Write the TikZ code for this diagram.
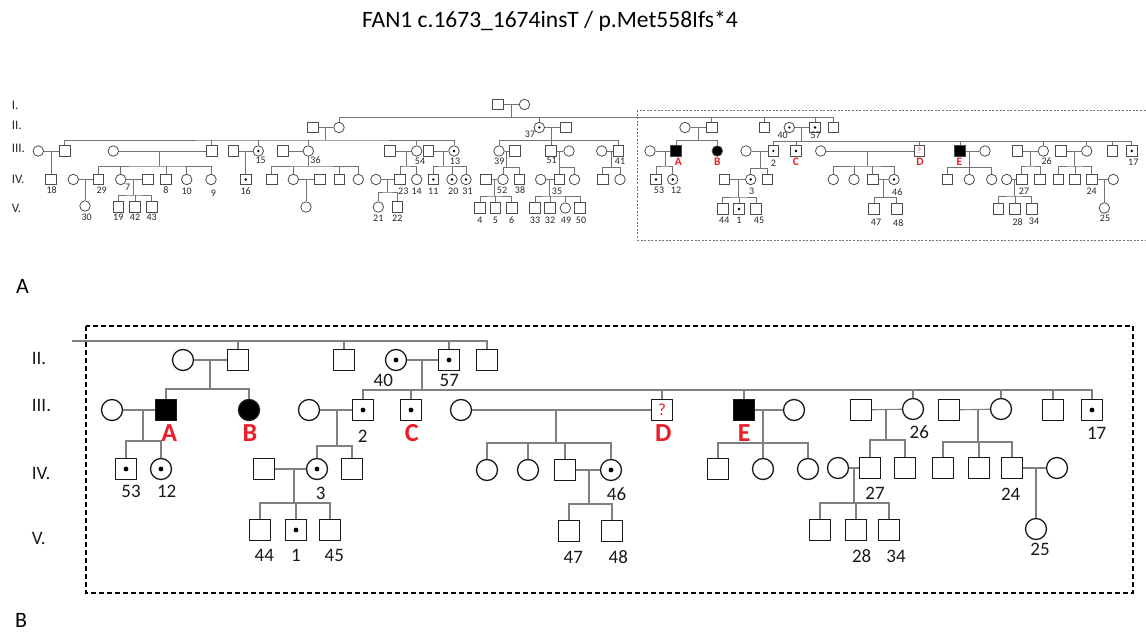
\documentclass[tikz,border=0pt]{standalone}
\usepackage{fontspec}
\setmainfont{Carlito}
\definecolor{tsym}{gray}{0.30}
\definecolor{tline}{gray}{0.45}
\definecolor{bsym}{gray}{0.10}
\definecolor{bline}{gray}{0.50}
\definecolor{lred}{RGB}{235,28,36}
\tikzset{
 tsq/.style={rectangle,draw=tsym,line width=0.8pt,minimum size=10.5pt,inner sep=0pt},
 tci/.style={circle,draw=tsym,line width=0.8pt,minimum size=10.5pt,inner sep=0pt},
 bsq/.style={rectangle,draw=bsym,line width=1.3pt,minimum size=21pt,inner sep=0pt},
 bci/.style={circle,draw=bsym,line width=1.3pt,minimum size=21pt,inner sep=0pt},
 aff/.style={fill=black},
 tcar/.style={path picture={\fill[black] (path picture bounding box.center) circle (1.3pt);}},
 bcar/.style={path picture={\fill[black] (path picture bounding box.center) circle (2.4pt);}},
 tln/.style={draw=tline,line width=0.7pt},
 bln/.style={draw=bline,line width=1.1pt},
 tlab/.style={inner sep=0pt,text=black!85,font=\fontsize{10}{12}\selectfont},
 blab/.style={inner sep=0pt,text=black!90,font=\fontsize{19}{22}\selectfont},
 tred/.style={inner sep=0pt,text=lred,font=\fontsize{11.5}{13}\selectfont\bfseries},
 bred/.style={inner sep=0pt,text=lred,font=\fontsize{26}{30}\selectfont\bfseries},
 tgen/.style={inner sep=0pt,anchor=west,text=black!85,font=\fontsize{13}{15}\selectfont},
 bgen/.style={inner sep=0pt,anchor=west,text=black!90,font=\fontsize{19}{22}\selectfont},
}
% family: style, name, x of drop, y of mating line, y of sibship bar, leftmost child, rightmost child
\newcommand{\pfam}[7]{%
 \coordinate (#2-m) at (#3,#4);
 \coordinate (#2-j) at (#3,#5);
 \draw[#1] (#2-m) -- (#2-j);
 \draw[#1] (#6.north) |- (#2-j) -| (#7.north);
}
% middle children of a family: style, name, list
\newcommand{\pmid}[3]{\foreach \c in {#3}{\draw[#1] (\c.north |- #2-j) -- (\c.north);}}
% only child straight below
\newcommand{\pone}[5]{%
 \coordinate (#2-m) at (#3,#4);
 \draw[#1] (#2-m) -- (#5.north);
}
\newcommand{\pmate}[3]{\draw[#1] (#2) -- (#3);}
\newcommand{\tnum}[4]{\node[tlab] (#1) at (#2,#3) {#4};}
\newcommand{\bnum}[4]{\node[blab] (#1) at (#2,#3) {#4};}
\begin{document}
\begin{tikzpicture}[x=1pt,y=-1pt]
\useasboundingbox (0,0) rectangle (1146,634);
% title and panel labels
\node[inner sep=0pt,anchor=base,font=\fontsize{23.5}{28}\selectfont] (title) at (550,27.3) {FAN1 c.1673\_1674insT / p.Met558Ifs*4};
\node[inner sep=0pt,anchor=base west,font=\fontsize{22}{26}\selectfont] (panA) at (16,293) {A};
\node[inner sep=0pt,anchor=base west,font=\fontsize{22}{26}\selectfont] (panB) at (15,627.3) {B};

% ================= PANEL A =================
\node[tgen] (tg1) at (11.7,105) {I.};
\node[tgen] (tg2) at (11.7,125) {II.};
\node[tgen] (tg3) at (11.7,148.3) {III.};
\node[tgen] (tg4) at (11.7,179.3) {IV.};
\node[tgen] (tg5) at (11.7,208.3) {V.};
\draw[tline,line width=0.8pt,dash pattern=on 2pt off 1.6pt] (637.3,110) rectangle (1152,240);

% Gen I
\node[tsq] (tI1) at (498,104.5) {};
\node[tci] (tI2) at (524.5,104.5) {};
% Gen II
\node[tsq] (tII1) at (313,127.5) {};
\node[tci] (tII2) at (339,127.5) {};
\node[tci,tcar] (tII3) at (539.3,127.5) {};
\node[tsq] (tII4) at (565.7,127.5) {};
\node[tci] (tII5) at (685,127.5) {};
\node[tsq] (tII6) at (711.7,127.5) {};
\node[tsq] (tII7) at (764.3,127.5) {};
\node[tci,tcar] (tII8) at (789.3,127.5) {};
\node[tsq,tcar] (tII9) at (815,127.5) {};
\node[tsq] (tII10) at (833.3,127.5) {};
% Gen III
\node[tci] (tIII0) at (38.3,151) {};
\node[tsq] (tIII1) at (64.7,151) {};
\node[tci] (tIII2) at (113.3,151) {};
\node[tsq] (tIII3) at (211.7,151) {};
\node[tsq] (tIII4) at (233.3,151) {};
\node[tci,tcar] (tIII5) at (258.3,151) {};
\node[tsq] (tIII6) at (283,151) {};
\node[tci] (tIII7) at (308.3,151) {};
\node[tsq] (tIII8) at (390,151) {};
\node[tci] (tIII9) at (416.7,151) {};
\node[tsq] (tIII10) at (428.3,151) {};
\node[tci,tcar] (tIII11) at (454,151) {};
\node[tci] (tIII12) at (499,151) {};
\node[tsq] (tIII13) at (515,151) {};
\node[tsq] (tIII14) at (551,151) {};
\node[tci] (tIII15) at (569,151) {};
\node[tci] (tIII16) at (601.7,151) {};
\node[tsq] (tIII17) at (618.3,151) {};
\node[tci] (tIII18) at (650,151) {};
\node[tsq,aff] (tIII19) at (676,151) {};
\node[tci,aff] (tIII20) at (717.3,151) {};
\node[tci] (tIII21) at (746,151) {};
\node[tsq,tcar] (tIII22) at (773.3,151) {};
\node[tsq,tcar] (tIII23) at (796,151) {};
\node[tci] (tIII24) at (820.7,151) {};
\node[tsq,text=lred,font=\fontsize{8}{9}\selectfont] (tIII25) at (919.3,151) {?};
\node[tsq,aff] (tIII26) at (960,151) {};
\node[tci] (tIII27) at (985,151) {};
\node[tsq] (tIII28) at (1017.3,151) {};
\node[tci] (tIII29) at (1043.3,151) {};
\node[tsq] (tIII30) at (1061,151) {};
\node[tci] (tIII31) at (1086.7,151) {};
\node[tsq] (tIII32) at (1112.3,151) {};
\node[tsq,tcar] (tIII33) at (1131.7,151) {};
% Gen IV
\node[tsq] (tIV1) at (51,179.5) {};
\node[tci] (tIV2) at (73.3,179.5) {};
\node[tsq] (tIV3) at (98.3,179.5) {};
\node[tci] (tIV4) at (120.7,179.5) {};
\node[tsq] (tIV5) at (147.7,179.5) {};
\node[tsq] (tIV6) at (166,179.5) {};
\node[tci] (tIV7) at (186.7,179.5) {};
\node[tci] (tIV8) at (211,179.5) {};
\node[tsq,tcar] (tIV9) at (245.7,179.5) {};
\node[tsq] (tIV10) at (271.7,179.5) {};
\node[tci] (tIV11) at (293.3,179.5) {};
\node[tsq] (tIV12) at (320,179.5) {};
\node[tsq] (tIV13) at (339.3,179.5) {};
\node[tci] (tIV14) at (358.3,179.5) {};
\node[tci] (tIV15) at (376,179.5) {};
\node[tsq] (tIV16) at (400,179.5) {};
\node[tci] (tIV17) at (416.7,179.5) {};
\node[tsq,tcar] (tIV18) at (433.3,179.5) {};
\node[tci,tcar] (tIV19) at (452,179.5) {};
\node[tci,tcar] (tIV20) at (466,179.5) {};
\node[tsq] (tIV21) at (486,179.5) {};
\node[tci] (tIV22) at (503,179.5) {};
\node[tsq] (tIV23) at (519.3,179.5) {};
\node[tci] (tIV24) at (540.7,179.5) {};
\node[tsq] (tIV25) at (559.5,179.5) {};
\node[tci] (tIV26) at (574.5,179.5) {};
\node[tsq] (tIV27) at (602.7,179.5) {};
\node[tci] (tIV28) at (620,179.5) {};
\node[tsq,tcar] (tIV29) at (656,179.5) {};
\node[tci,tcar] (tIV30) at (672.7,179.5) {};
\node[tsq] (tIV31) at (724.3,179.5) {};
\node[tci,tcar] (tIV32) at (750.7,179.5) {};
\node[tsq] (tIV33) at (767.3,179.5) {};
\node[tci] (tIV34) at (833.3,179.5) {};
\node[tci] (tIV35) at (854,179.5) {};
\node[tsq] (tIV36) at (872.7,179.5) {};
\node[tci,tcar] (tIV37) at (894,179.5) {};
\node[tsq] (tIV38) at (947.3,179.5) {};
\node[tci] (tIV39) at (969.3,179.5) {};
\node[tci] (tIV40) at (991.7,179.5) {};
\node[tci] (tIV41) at (1006.7,179.5) {};
\node[tsq] (tIV42) at (1021.7,179.5) {};
\node[tsq] (tIV43) at (1040,179.5) {};
\node[tsq] (tIV44) at (1058.3,179.5) {};
\node[tsq] (tIV45) at (1075,179.5) {};
\node[tsq] (tIV46) at (1091.7,179.5) {};
\node[tci] (tIV47) at (1113.3,179.5) {};
% Gen V
\node[tci] (tV1) at (85,206) {};
\node[tsq] (tV2) at (118.3,207) {};
\node[tsq] (tV3) at (135,207) {};
\node[tsq] (tV4) at (151.7,207) {};
\node[tci] (tV5) at (306,207) {};
\node[tci] (tV6) at (378.3,207) {};
\node[tsq] (tV7) at (397.3,207) {};
\node[tsq] (tV8) at (480,208) {};
\node[tsq] (tV9) at (495.3,208) {};
\node[tsq] (tV10) at (511.7,208) {};
\node[tsq] (tV11) at (535,208) {};
\node[tsq] (tV12) at (550,208) {};
\node[tci] (tV13) at (565.3,208) {};
\node[tsq] (tV14) at (580,208) {};
\node[tsq] (tV15) at (722.7,209) {};
\node[tsq,tcar] (tV16) at (739,209) {};
\node[tsq] (tV17) at (756,209) {};
\node[tsq] (tV18) at (874,209) {};
\node[tsq] (tV19) at (896.7,209) {};
\node[tsq] (tV20) at (998.3,209) {};
\node[tsq] (tV21) at (1015,209) {};
\node[tsq] (tV22) at (1031.7,209) {};
\node[tci] (tV23) at (1104.3,208) {};

% connectors panel A
\pmate{tln}{tI1}{tI2}
\pfam{tln}{tfI}{511}{104.5}{117.7}{tII2}{tII10}
\pmid{tln}{tfI}{tII3,tII6,tII7,tII9}
\pmate{tln}{tII1}{tII2}
\pmate{tln}{tII3}{tII4}
\pmate{tln}{tII5}{tII6}
\pmate{tln}{tII8}{tII9}
\pfam{tln}{tfA}{325}{127.5}{140}{tIII1}{tIII11}
\pmid{tln}{tfA}{tIII3,tIII5,tIII7,tIII9}
\pfam{tln}{tfB}{551.7}{127.5}{140.7}{tIII12}{tIII17}
\pmid{tln}{tfB}{tIII14}
\pfam{tln}{tfC}{698.3}{127.5}{140.7}{tIII19}{tIII20}
\pfam{tln}{tfD}{801.7}{127.5}{141.7}{tIII22}{tIII33}
\pmid{tln}{tfD}{tIII23,tIII25,tIII26,tIII29,tIII31,tIII32}
\pmate{tln}{tIII0}{tIII1}
\pmate{tln}{tIII2}{tIII3}
\pmate{tln}{tIII4}{tIII5}
\pmate{tln}{tIII6}{tIII7}
\pmate{tln}{tIII8}{tIII9}
\pmate{tln}{tIII10}{tIII11}
\pmate{tln}{tIII12}{tIII13}
\pmate{tln}{tIII14}{tIII15}
\pmate{tln}{tIII16}{tIII17}
\pmate{tln}{tIII18}{tIII19}
\pmate{tln}{tIII21}{tIII22}
\pmate{tln}{tIII24}{tIII25}
\pmate{tln}{tIII26}{tIII27}
\pmate{tln}{tIII28}{tIII29}
\pmate{tln}{tIII30}{tIII31}
\pone{tln}{tfE}{51}{151}{tIV1}
\pfam{tln}{tfF}{159.3}{151}{166}{tIV3}{tIV8}
\pmid{tln}{tfF}{tIV4,tIV6,tIV7}
\pone{tln}{tfG}{245.7}{151}{tIV9}
\pfam{tln}{tfH}{308.3}{156.3}{166}{tIV10}{tIV14}
\pmid{tln}{tfH}{tIV11,tIV13}
\pfam{tln}{tfJ}{406}{151}{166}{tIV16}{tIV17}
\pfam{tln}{tfK}{443.3}{151}{166}{tIV18}{tIV20}
\pmid{tln}{tfK}{tIV19}
\pfam{tln}{tfL}{506}{151}{167.3}{tIV22}{tIV23}
\pfam{tln}{tfM}{559.5}{151}{167.3}{tIV25}{tIV26}
\pfam{tln}{tfN}{611}{151}{167.3}{tIV27}{tIV28}
\pfam{tln}{tfO}{665}{151}{166}{tIV29}{tIV30}
\pfam{tln}{tfP}{760}{151}{168.3}{tIV32}{tIV33}
\pfam{tln}{tfQ}{867.3}{151}{166}{tIV34}{tIV37}
\pmid{tln}{tfQ}{tIV35,tIV36}
\pfam{tln}{tfR}{969.3}{151}{167.3}{tIV38}{tIV40}
\pmid{tln}{tfR}{tIV39}
\pfam{tln}{tfS}{1030}{151}{166}{tIV42}{tIV43}
\pfam{tln}{tfT}{1074.3}{151}{166}{tIV44}{tIV46}
\pmid{tln}{tfT}{tIV45}
\pmate{tln}{tIV2}{tIV3}
\pmate{tln}{tIV4}{tIV5}
\pmate{tln}{tIV11}{tIV12}
\pmate{tln}{tIV15}{tIV16}
\pmate{tln}{tIV21}{tIV22}
\pmate{tln}{tIV24}{tIV25}
\pmate{tln}{tIV31}{tIV32}
\pmate{tln}{tIV36}{tIV37}
\pmate{tln}{tIV41}{tIV42}
\pmate{tln}{tIV46}{tIV47}
\pone{tln}{tfU}{85}{179.5}{tV1}
\pfam{tln}{tfV}{133.3}{179.5}{195}{tV2}{tV4}
\pmid{tln}{tfV}{tV3}
\pone{tln}{tfW}{306}{179.5}{tV5}
\pfam{tln}{tfX}{387.3}{179.5}{192}{tV6}{tV7}
\pfam{tln}{tfY}{494}{179.5}{196}{tV8}{tV10}
\pmid{tln}{tfY}{tV9}
\pfam{tln}{tfZ}{549.3}{179.5}{196}{tV11}{tV14}
\pmid{tln}{tfZ}{tV12,tV13}
\pfam{tln}{tfAA}{738.3}{179.5}{197}{tV15}{tV17}
\pmid{tln}{tfAA}{tV16}
\pfam{tln}{tfAB}{883.3}{179.5}{197.3}{tV18}{tV19}
\pfam{tln}{tfAC}{1014}{179.5}{196}{tV20}{tV22}
\pmid{tln}{tfAC}{tV21}
\pone{tln}{tfAD}{1104.3}{179.5}{tV23}

% labels panel A
\tnum{tn18}{51.7}{190}{18}
\tnum{tn29}{101.7}{190}{29}
\tnum{tn7}{127.7}{187.3}{7}
\tnum{tn8}{166}{190}{8}
\tnum{tn10}{186.7}{191}{10}
\tnum{tn9}{213.3}{193.3}{9}
\tnum{tn30}{86.7}{217.7}{30}
\tnum{tn19}{118.3}{217.7}{19}
\tnum{tn42}{135}{217.7}{42}
\tnum{tn43}{151.7}{217.7}{43}
\tnum{tn16}{245.7}{191.3}{16}
\tnum{tn15}{260.7}{160}{15}
\tnum{tn36}{315.5}{160.3}{36}
\tnum{tn54}{420}{161.7}{54}
\tnum{tn13}{455}{161.7}{13}
\tnum{tn37}{530}{134.3}{37}
\tnum{tn23}{403.3}{191}{23}
\tnum{tn14}{416.7}{191}{14}
\tnum{tn11}{433.3}{191.7}{11}
\tnum{tn20}{453.3}{191.7}{20}
\tnum{tn31}{467.5}{191.7}{31}
\tnum{tn21}{378.3}{218.3}{21}
\tnum{tn22}{397.3}{218.3}{22}
\tnum{tn39}{499.3}{161.7}{39}
\tnum{tn52}{502}{190.7}{52}
\tnum{tn38}{520}{190}{38}
\tnum{tn51}{551.7}{160}{51}
\tnum{tn35}{557}{191}{35}
\tnum{tn41}{620}{161}{41}
\tnum{tn4}{480}{220}{4}
\tnum{tn5}{495.3}{220}{5}
\tnum{tn6}{511.7}{220}{6}
\tnum{tn33}{535}{220}{33}
\tnum{tn32}{550}{220}{32}
\tnum{tn49}{566}{220}{49}
\tnum{tn50}{581}{220}{50}
\tnum{tn40}{782.7}{135}{40}
\tnum{tn57}{815.7}{135.7}{57}
\tnum{tn2}{773.3}{163.3}{2}
\tnum{tn53}{659}{190}{53}
\tnum{tn12}{676}{190}{12}
\tnum{tn3}{751.7}{191}{3}
\tnum{tn44}{724.3}{220.7}{44}
\tnum{tn1}{739}{220.7}{1}
\tnum{tn45}{759}{220.7}{45}
\tnum{tn47}{876}{222.7}{47}
\tnum{tn46}{897.3}{191.7}{46}
\tnum{tn48}{898.3}{222.7}{48}
\tnum{tn26}{1046.7}{161}{26}
\tnum{tn27}{1024}{191.7}{27}
\tnum{tn28}{1017.7}{222.3}{28}
\tnum{tn34}{1034}{221.7}{34}
\tnum{tn24}{1091.7}{191.7}{24}
\tnum{tn25}{1105}{218.3}{25}
\tnum{tn17}{1133.3}{162.7}{17}
\node[tred] (trA) at (678.3,161.7) {A};
\node[tred] (trB) at (717.3,161.7) {B};
\node[tred] (trC) at (796,161.7) {C};
\node[tred] (trD) at (920,161.7) {D};
\node[tred] (trE) at (959.3,161.7) {E};

% ================= PANEL B =================
\node[bgen] (bg2) at (31.7,358.3) {II.};
\node[bgen] (bg3) at (31.7,405) {III.};
\node[bgen] (bg4) at (31.7,473.3) {IV.};
\node[bgen] (bg5) at (31.7,538.3) {V.};
\draw[black,line width=1.3pt,dash pattern=on 5pt off 3pt] (86,326) rectangle (1133,593);

% Gen II
\coordinate (bII-j) at (72,341);
\node[bci] (bII1) at (183,360) {};
\node[bsq] (bII2) at (238,360) {};
\node[bsq] (bII3) at (344,360) {};
\node[bci,bcar] (bII4) at (396,360) {};
\node[bsq,bcar] (bII5) at (449,360) {};
\node[bsq] (bII6) at (487,360) {};
% Gen III
\node[bci] (bIII1) at (112,410) {};
\node[bsq,aff] (bIII2) at (166,410) {};
\node[bci,aff] (bIII3) at (249,410) {};
\node[bci] (bIII4) at (309,410) {};
\node[bsq,bcar] (bIII5) at (363,410) {};
\node[bsq,bcar] (bIII6) at (411,410) {};
\node[bci] (bIII7) at (461,410) {};
\node[bsq,text=lred,font=\fontsize{17}{20}\selectfont] (bIII8) at (662,410) {?};
\node[bsq,aff] (bIII9) at (744,410) {};
\node[bci] (bIII10) at (794,410) {};
\node[bsq] (bIII11) at (861,410) {};
\node[bci] (bIII12) at (913,409) {};
\node[bsq] (bIII13) at (949,410) {};
\node[bci] (bIII14) at (1001,409) {};
\node[bsq] (bIII15) at (1053,410) {};
\node[bsq,bcar] (bIII16) at (1092,410) {};
% Gen IV
\node[bsq,bcar] (bIV1) at (126,469) {};
\node[bci,bcar] (bIV2) at (161,469) {};
\node[bsq] (bIV3) at (264,469) {};
\node[bci,bcar] (bIV4) at (317,469) {};
\node[bsq] (bIV5) at (352,469) {};
\node[bci] (bIV6) at (487,470) {};
\node[bci] (bIV7) at (528,470) {};
\node[bsq] (bIV8) at (565,470) {};
\node[bci,bcar] (bIV9) at (611,470) {};
\node[bsq] (bIV10) at (718,469) {};
\node[bci] (bIV11) at (763,469) {};
\node[bci] (bIV12) at (808,469) {};
\node[bci] (bIV13) at (838,468) {};
\node[bsq] (bIV14) at (870,468) {};
\node[bsq] (bIV15) at (905,468) {};
\node[bsq] (bIV16) at (943,468) {};
\node[bsq] (bIV17) at (979,468) {};
\node[bsq] (bIV18) at (1012,468) {};
\node[bci] (bIV19) at (1057,468) {};
% Gen V
\node[bsq] (bV1) at (260,530) {};
\node[bsq,bcar] (bV2) at (296,530) {};
\node[bsq] (bV3) at (330,530) {};
\node[bsq] (bV4) at (569,531) {};
\node[bsq] (bV5) at (612,531) {};
\node[bsq] (bV6) at (820,530) {};
\node[bsq] (bV7) at (856,530) {};
\node[bsq] (bV8) at (889,530) {};
\node[bci] (bV9) at (1036,529) {};

% connectors panel B
\draw[bln] (bII-j) -| (bII6.north);
\pmid{bln}{bII}{bII2,bII3,bII5}
\pmate{bln}{bII1}{bII2}
\pmate{bln}{bII4}{bII5}
\pfam{bln}{bfA}{210}{360}{389}{bIII2}{bIII3}
\pfam{bln}{bfB}{422}{360}{390}{bIII5}{bIII16}
\pmid{bln}{bfB}{bIII6,bIII8,bIII9,bIII12,bIII14,bIII15}
\pmate{bln}{bIII1}{bIII2}
\pmate{bln}{bIII4}{bIII5}
\pmate{bln}{bIII7}{bIII8}
\pmate{bln}{bIII9}{bIII10}
\pmate{bln}{bIII11}{bIII12}
\pmate{bln}{bIII13}{bIII14}
\pfam{bln}{bfC}{143}{410}{441}{bIV1}{bIV2}
\pfam{bln}{bfD}{337}{410}{446}{bIV4}{bIV5}
\pfam{bln}{bfE}{556}{410}{443}{bIV6}{bIV9}
\pmid{bln}{bfE}{bIV7,bIV8}
\pfam{bln}{bfF}{763}{410}{443}{bIV10}{bIV12}
\pmid{bln}{bfF}{bIV11}
\pfam{bln}{bfG}{886}{410}{440}{bIV14}{bIV15}
\pfam{bln}{bfH}{978}{410}{442}{bIV16}{bIV18}
\pmid{bln}{bfH}{bIV17}
\pmate{bln}{bIV3}{bIV4}
\pmate{bln}{bIV8}{bIV9}
\pmate{bln}{bIV13}{bIV14}
\pmate{bln}{bIV18}{bIV19}
\pfam{bln}{bfI}{294}{469}{503}{bV1}{bV3}
\pmid{bln}{bfI}{bV2}
\pfam{bln}{bfJ}{589}{470}{504}{bV4}{bV5}
\pfam{bln}{bfK}{854}{468}{503}{bV6}{bV8}
\pmid{bln}{bfK}{bV7}
\pone{bln}{bfL}{1036}{468}{bV9}

% labels panel B
\bnum{bn40}{383.3}{380}{40}
\bnum{bn57}{449.3}{380.7}{57}
\bnum{bn53}{131}{491.7}{53}
\bnum{bn12}{166.7}{491.7}{12}
\bnum{bn2}{362.7}{436.7}{2}
\bnum{bn3}{320.7}{493.3}{3}
\bnum{bn44}{264.3}{555}{44}
\bnum{bn1}{296}{555}{1}
\bnum{bn45}{334.3}{555}{45}
\bnum{bn46}{616.5}{494}{46}
\bnum{bn47}{573.3}{557.3}{47}
\bnum{bn48}{618.3}{557.3}{48}
\bnum{bn26}{919.3}{431.7}{26}
\bnum{bn27}{875}{493.3}{27}
\bnum{bn28}{861.7}{556}{28}
\bnum{bn34}{896}{556}{34}
\bnum{bn24}{1010.7}{494}{24}
\bnum{bn25}{1040}{549.3}{25}
\bnum{bn17}{1096.7}{433.3}{17}
\node[bred] (brA) at (169.3,433.3) {A};
\node[bred] (brB) at (250,433.3) {B};
\node[bred] (brC) at (411.7,433.3) {C};
\node[bred] (brD) at (663.3,433.3) {D};
\node[bred] (brE) at (744.3,433.3) {E};
\end{tikzpicture}
\end{document}
